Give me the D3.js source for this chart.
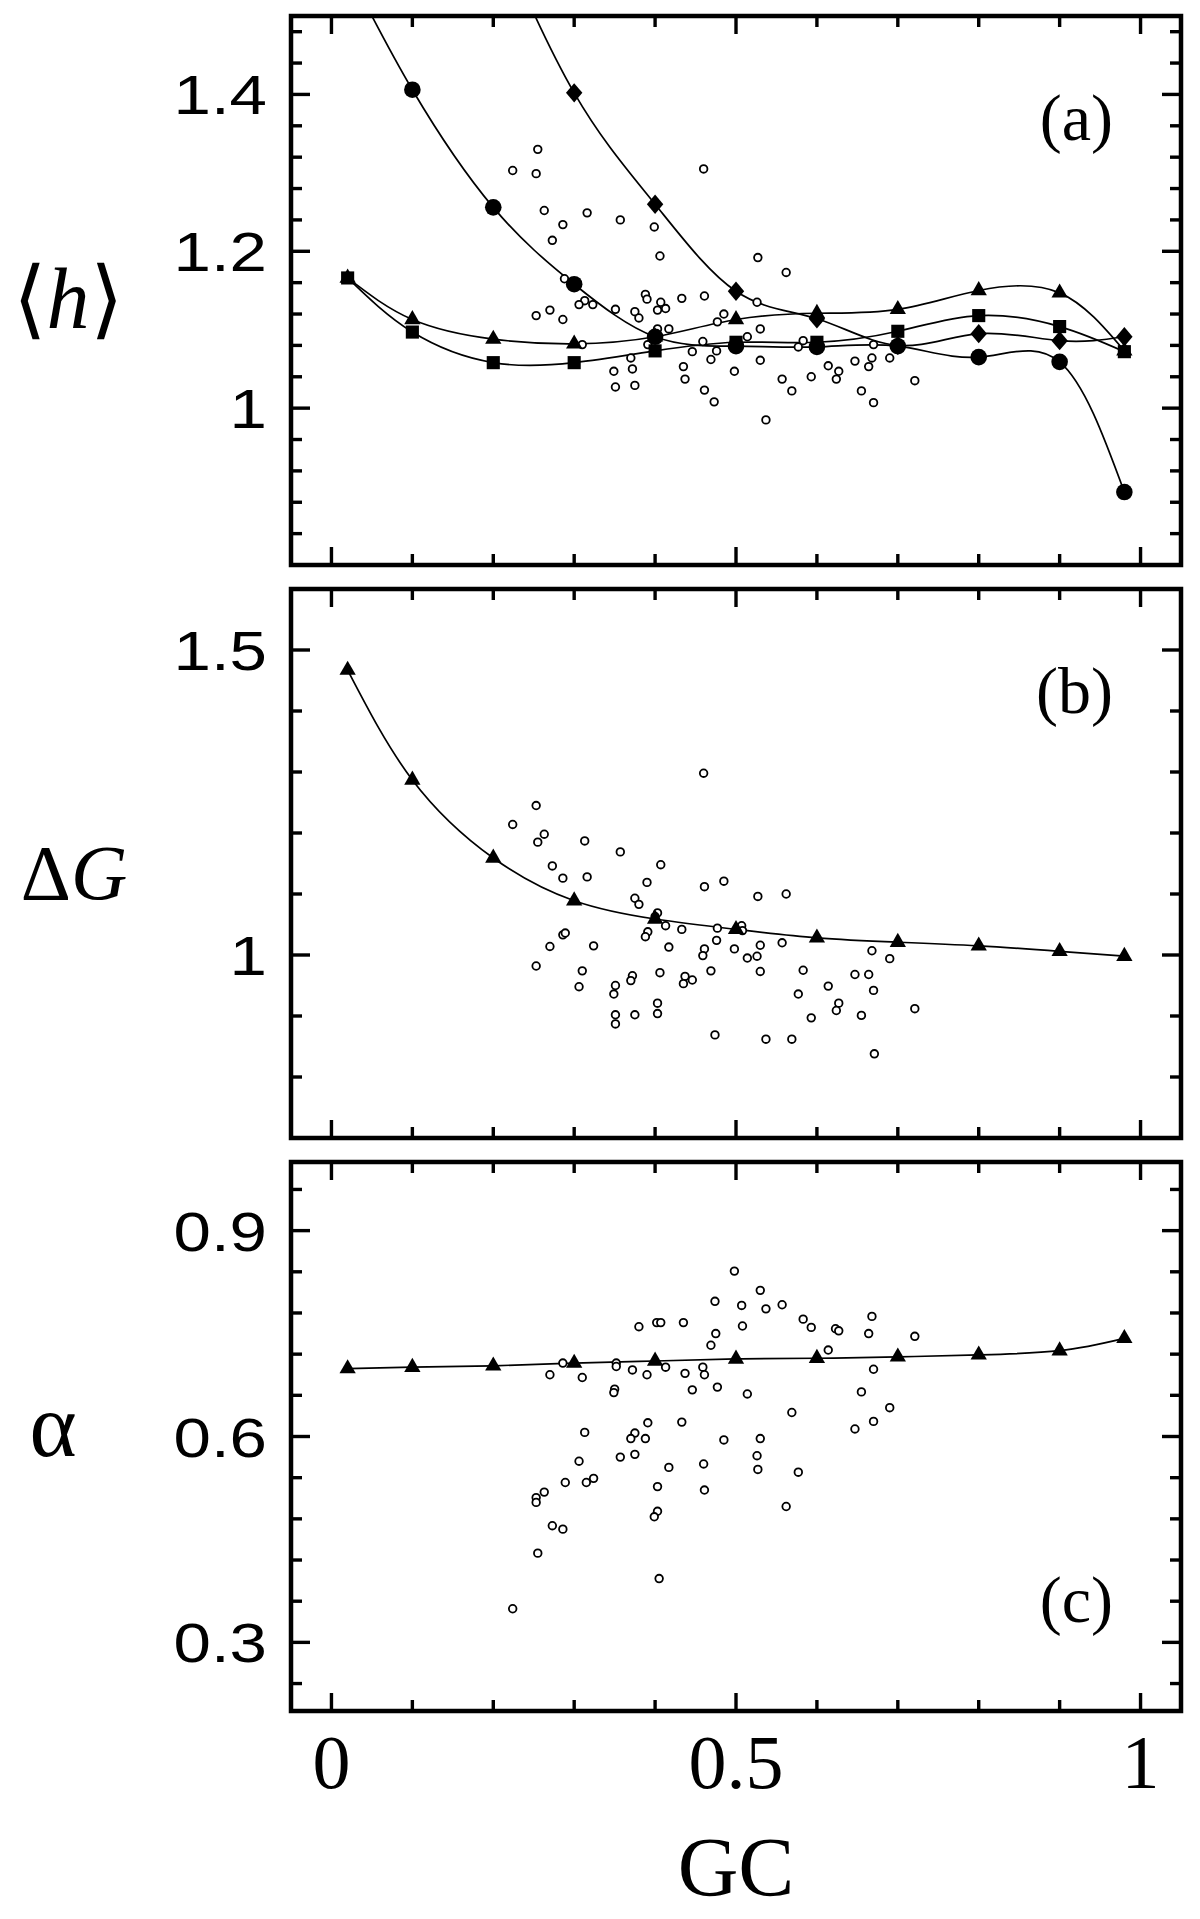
<!DOCTYPE html>
<html>
<head>
<meta charset="utf-8">
<script src="https://cdn.jsdelivr.net/npm/d3@7"></script>
<style>
	body { margin: 0; background: #fff; }
</style>
</head>
<body>
<svg id="chart" width="1200" height="1919"></svg>
<script>
// GC values of the model sequences
const gcGrid = [0.02, 0.1, 0.2, 0.3, 0.4, 0.5, 0.6, 0.7, 0.8, 0.9, 0.98];

// panel (a) <h>, four model families (first points of two run off the top)
const hCircle   = [1.56, 1.406, 1.256, 1.158, 1.091, 1.079, 1.078, 1.079, 1.065, 1.059, 0.893];
const hDiamond  = [null, null, 1.62, 1.402, 1.26, 1.149, 1.114, 1.080, 1.095, 1.086, 1.091];
const hTriangle = [1.166, 1.113, 1.088, 1.082, 1.091, 1.113, 1.121, 1.126, 1.150, 1.147, 1.073];
const hSquare   = [1.166, 1.097, 1.058, 1.058, 1.073, 1.084, 1.084, 1.098, 1.118, 1.104, 1.072];

// panel (b) and (c) model curves
const dgModel    = [1.467, 1.287, 1.159, 1.089, 1.059, 1.042, 1.028, 1.021, 1.015, 1.006, 0.998];
const alphaModel = [0.699, 0.701, 0.703, 0.707, 0.710, 0.713, 0.714, 0.716, 0.719, 0.725, 0.743];

// real genes, [GC, value]
const hGenes = [
	[0.255,1.330],[0.224,1.303],[0.253,1.299],[0.460,1.305],[0.263,1.252],[0.316,1.249],[0.357,1.240],
	[0.286,1.234],[0.399,1.231],[0.273,1.214],[0.406,1.194],[0.527,1.192],[0.562,1.173],[0.288,1.165],
	[0.388,1.145],[0.390,1.139],[0.433,1.140],[0.461,1.143],[0.313,1.137],[0.306,1.132],[0.323,1.132],
	[0.526,1.135],[0.351,1.126],[0.407,1.135],[0.403,1.125],[0.413,1.127],[0.375,1.123],[0.270,1.125],
	[0.253,1.118],[0.380,1.115],[0.286,1.113],[0.485,1.120],[0.477,1.110],[0.403,1.101],[0.417,1.101],
	[0.530,1.101],[0.514,1.091],[0.459,1.085],[0.310,1.081],[0.391,1.081],[0.583,1.086],[0.577,1.078],
	[0.670,1.081],[0.446,1.072],[0.476,1.073],[0.690,1.064],[0.370,1.064],[0.469,1.062],[0.530,1.061],
	[0.647,1.060],[0.668,1.064],[0.435,1.053],[0.614,1.054],[0.664,1.053],[0.349,1.047],[0.372,1.050],
	[0.498,1.047],[0.627,1.047],[0.557,1.037],[0.593,1.040],[0.437,1.037],[0.624,1.037],[0.721,1.035],
	[0.351,1.027],[0.375,1.029],[0.461,1.023],[0.569,1.022],[0.655,1.022],[0.473,1.008],[0.670,1.007],
	[0.537,0.985]
];
const dgGenes = [
	[0.460,1.298],[0.253,1.245],[0.224,1.214],[0.263,1.198],[0.255,1.185],[0.313,1.187],[0.357,1.169],
	[0.407,1.148],[0.273,1.146],[0.286,1.126],[0.316,1.128],[0.390,1.119],[0.461,1.112],[0.485,1.121],
	[0.527,1.096],[0.562,1.100],[0.375,1.093],[0.380,1.083],[0.403,1.069],[0.400,1.063],[0.413,1.048],
	[0.433,1.042],[0.477,1.044],[0.507,1.048],[0.508,1.040],[0.391,1.038],[0.388,1.030],[0.286,1.033],
	[0.289,1.036],[0.476,1.024],[0.270,1.014],[0.324,1.015],[0.417,1.013],[0.530,1.016],[0.557,1.020],
	[0.498,1.010],[0.461,1.010],[0.459,0.999],[0.514,0.995],[0.526,0.998],[0.668,1.007],[0.690,0.994],
	[0.253,0.982],[0.310,0.974],[0.406,0.971],[0.469,0.974],[0.530,0.973],[0.583,0.975],[0.306,0.948],
	[0.351,0.950],[0.349,0.936],[0.372,0.966],[0.370,0.958],[0.437,0.965],[0.435,0.953],[0.446,0.959],
	[0.647,0.968],[0.664,0.968],[0.614,0.949],[0.670,0.942],[0.577,0.936],[0.403,0.921],[0.627,0.921],
	[0.624,0.909],[0.403,0.904],[0.351,0.902],[0.375,0.902],[0.593,0.897],[0.655,0.901],[0.721,0.912],
	[0.351,0.887],[0.474,0.869],[0.537,0.862],[0.569,0.862],[0.671,0.838]
];
const alphaGenes = [
	[0.498,0.841],[0.530,0.813],[0.474,0.797],[0.507,0.791],[0.537,0.786],[0.557,0.792],[0.668,0.775],
	[0.583,0.771],[0.593,0.759],[0.623,0.757],[0.627,0.754],[0.664,0.750],[0.721,0.746],[0.402,0.766],
	[0.407,0.766],[0.380,0.760],[0.435,0.766],[0.508,0.761],[0.475,0.750],[0.469,0.733],[0.614,0.726],
	[0.286,0.707],[0.352,0.707],[0.352,0.702],[0.413,0.701],[0.459,0.701],[0.270,0.690],[0.310,0.686],
	[0.372,0.697],[0.390,0.690],[0.437,0.692],[0.461,0.690],[0.670,0.698],[0.350,0.669],[0.349,0.664],
	[0.446,0.668],[0.477,0.672],[0.514,0.662],[0.655,0.665],[0.690,0.642],[0.569,0.635],[0.670,0.622],
	[0.647,0.611],[0.391,0.620],[0.433,0.621],[0.313,0.606],[0.375,0.605],[0.370,0.597],[0.388,0.597],
	[0.485,0.595],[0.530,0.597],[0.375,0.574],[0.357,0.570],[0.526,0.572],[0.527,0.552],[0.577,0.548],
	[0.460,0.560],[0.417,0.555],[0.306,0.564],[0.289,0.533],[0.315,0.533],[0.324,0.539],[0.403,0.527],
	[0.461,0.522],[0.263,0.519],[0.253,0.511],[0.253,0.504],[0.562,0.498],[0.403,0.491],[0.399,0.483],
	[0.273,0.470],[0.286,0.465],[0.255,0.430],[0.405,0.393],[0.224,0.349]
];

// ticks
const xMajor = [0, 0.5, 1];
const xMinor = [0.1, 0.2, 0.3, 0.4, 0.6, 0.7, 0.8, 0.9];
const xLabels = ['0', '0.5', '1'];

const hMajor = [1, 1.2, 1.4];
const hMinor = [0.84, 0.88, 0.92, 0.96, 1.04, 1.08, 1.12, 1.16, 1.24, 1.28, 1.32, 1.36, 1.44, 1.48];
const hLabels = ['1', '1.2', '1.4'];
const dgMajor = [1, 1.5];
const dgMinor = [0.8, 0.9, 1.1, 1.2, 1.3, 1.4];
const dgLabels = ['1', '1.5'];
const alphaMajor = [0.3, 0.6, 0.9];
const alphaMinor = [0.24, 0.36, 0.42, 0.48, 0.54, 0.66, 0.72, 0.78, 0.84, 0.96];
const alphaLabels = ['0.3', '0.6', '0.9'];

let svg = d3.select('#chart');
let left = 291, right = 1181, panelH = 549;
let x = d3.scaleLinear().domain([-0.05, 1.05]).range([left, right]);
let serif = '"Liberation Serif", "Times New Roman", serif';

let diamondType = {
	draw: function(ctx, size) {
		let w = Math.sqrt(size) * 0.56, h = Math.sqrt(size) * 0.66;
		ctx.moveTo(0, -h);
		ctx.lineTo(w, 0);
		ctx.lineTo(0, h);
		ctx.lineTo(-w, 0);
		ctx.closePath();
	}
};
let symbols = {
	circle: d3.symbol().type(d3.symbolCircle).size(Math.PI * 8.3 * 8.3),
	diamond: d3.symbol().type(diamondType).size(215),
	triangle: d3.symbol().type(d3.symbolTriangle).size(115),
	square: d3.symbol().type(d3.symbolSquare).size(172)
};

function renderPanel(p) {
	let top = p.top, bottom = top + panelH;
	let y = d3.scaleLinear().domain(p.domain).range([bottom, top]);
	let g = svg.append('g').attr('id', 'panel-' + p.letter);

	g.append('clipPath').attr('id', 'clip-' + p.letter)
		.append('rect')
		.attr('x', left).attr('y', top)
		.attr('width', right - left).attr('height', panelH);

	// ticks on all four sides
	let ticks = g.append('g')
		.attr('stroke', '#000')
		.attr('stroke-width', 3.4);
	xMajor.concat(xMinor).forEach(function(v) {
		let len = xMajor.includes(v) ? 18 : 11;
		ticks.append('line').attr('x1', x(v)).attr('x2', x(v)).attr('y1', bottom).attr('y2', bottom - len);
		ticks.append('line').attr('x1', x(v)).attr('x2', x(v)).attr('y1', top).attr('y2', top + len);
	});
	p.major.concat(p.minor).forEach(function(v) {
		let len = p.major.includes(v) ? 19 : 11;
		ticks.append('line').attr('x1', left).attr('x2', left + len).attr('y1', y(v)).attr('y2', y(v));
		ticks.append('line').attr('x1', right).attr('x2', right - len).attr('y1', y(v)).attr('y2', y(v));
	});

	// y tick labels, wide sans
	p.major.forEach(function(v, i) {
		g.append('text')
			.attr('transform', 'translate(267,' + (y(v) + 20) + ') scale(1.2,1)')
			.attr('text-anchor', 'end')
			.style('font-family', '"Liberation Sans", Arial, sans-serif')
			.style('font-size', '56px')
			.text(p.labels[i]);
	});

	let line = d3.line()
		.x(function(d) { return x(d[0]); })
		.y(function(d) { return y(d[1]); })
		.curve(d3.curveNatural);

	let curves = g.append('g').attr('clip-path', 'url(#clip-' + p.letter + ')');
	p.series.forEach(function(s) {
		let pts = gcGrid.map(function(gc, i) { return [gc, s.values[i]]; })
			.filter(function(d) { return d[1] !== null; });
		curves.append('path')
			.attr('d', line(pts))
			.attr('fill', 'none')
			.attr('stroke', '#000')
			.attr('stroke-width', 1.7);
	});

	// open circles for genes
	curves.selectAll('circle.gene')
		.data(p.genes)
		.enter().append('circle')
		.attr('class', 'gene')
		.attr('cx', function(d) { return x(d[0]); })
		.attr('cy', function(d) { return y(d[1]); })
		.attr('r', 3.8)
		.attr('fill', '#fff')
		.attr('stroke', '#000')
		.attr('stroke-width', 1.8);

	p.series.forEach(function(s) {
		let pts = gcGrid.map(function(gc, i) { return [gc, s.values[i]]; })
			.filter(function(d) { return d[1] !== null; });
		curves.selectAll('path.m-' + s.shape)
			.data(pts)
			.enter().append('path')
			.attr('class', 'm-' + s.shape)
			.attr('d', symbols[s.shape])
			.attr('transform', function(d) { return 'translate(' + x(d[0]) + ',' + y(d[1]) + ')'; })
			.attr('fill', '#000');
	});

	// frame
	g.append('rect')
		.attr('x', left).attr('y', top)
		.attr('width', right - left).attr('height', panelH)
		.attr('fill', 'none')
		.attr('stroke', '#000')
		.attr('stroke-width', 4.5);

	g.append('text')
		.attr('x', 1113)
		.attr('y', top + p.letterDy)
		.attr('text-anchor', 'end')
		.style('font-family', serif)
		.style('font-size', '66px')
		.text('(' + p.letter + ')');

	let title = g.append('text')
		.attr('x', p.titleX)
		.attr('y', p.titleY)
		.attr('text-anchor', 'middle')
		.style('font-family', serif)
		.style('font-size', p.titleSize + 'px');
	p.title.forEach(function(t) {
		title.append('tspan')
			.style('font-style', t[1] ? 'italic' : 'normal')
			.text(t[0]);
	});
}

renderPanel({
	letter: 'a', top: 16, domain: [0.8, 1.5],
	major: hMajor, minor: hMinor, labels: hLabels,
	genes: hGenes,
	series: [
		{values: hCircle, shape: 'circle'},
		{values: hDiamond, shape: 'diamond'},
		{values: hTriangle, shape: 'triangle'},
		{values: hSquare, shape: 'square'}
	],
	letterDy: 124,
	title: [['\u27E8', false], ['h', true], ['\u27E9', false]],
	titleX: 68, titleY: 328, titleSize: 86
});
renderPanel({
	letter: 'b', top: 589, domain: [0.7, 1.6],
	major: dgMajor, minor: dgMinor, labels: dgLabels,
	genes: dgGenes,
	series: [{values: dgModel, shape: 'triangle'}],
	letterDy: 124,
	title: [['\u0394', false], ['G', true]],
	titleX: 74, titleY: 899, titleSize: 78
});
renderPanel({
	letter: 'c', top: 1162, domain: [0.2, 1.0],
	major: alphaMajor, minor: alphaMinor, labels: alphaLabels,
	genes: alphaGenes,
	series: [{values: alphaModel, shape: 'triangle'}],
	letterDy: 460,
	title: [['\u03B1', false]],
	titleX: 53, titleY: 1456, titleSize: 90
});

// x tick labels and title under the last panel
xMajor.forEach(function(v, i) {
	svg.append('text')
		.attr('x', x(v))
		.attr('y', 1788)
		.attr('text-anchor', 'middle')
		.style('font-family', serif)
		.style('font-size', '76px')
		.text(xLabels[i]);
});
svg.append('text')
	.attr('x', x(0.5))
	.attr('y', 1896)
	.attr('text-anchor', 'middle')
	.style('font-family', serif)
	.style('font-size', '84px')
	.text('GC');
</script>
</body>
</html>
